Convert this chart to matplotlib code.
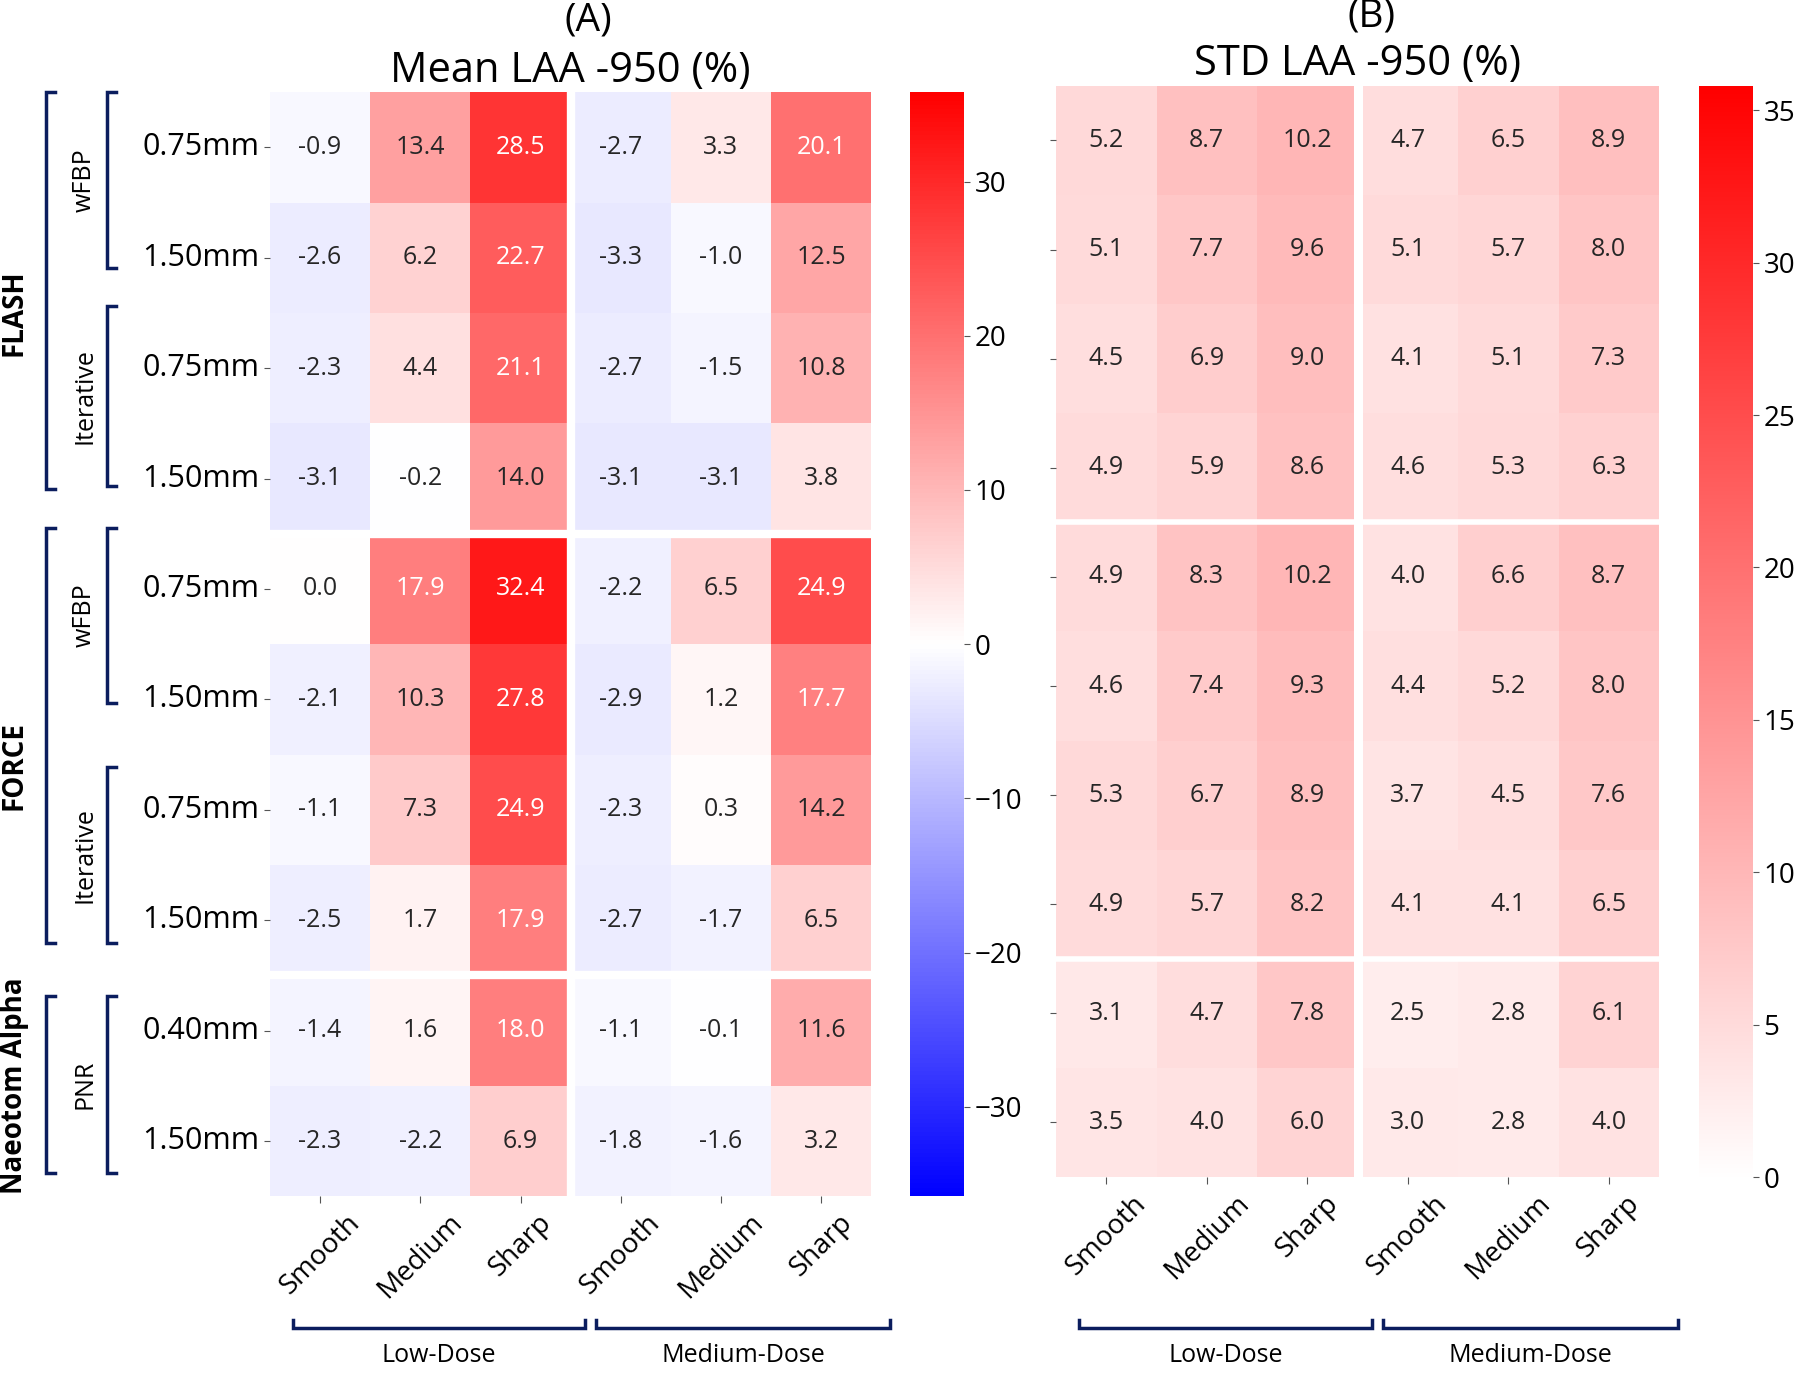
import numpy as np
import matplotlib
matplotlib.use('Agg')
import matplotlib.pyplot as plt
import seaborn as sns
from matplotlib import transforms
from matplotlib.lines import Line2D
from matplotlib.colors import LinearSegmentedColormap

plt.rcParams['font.family'] = ['Open Sans', 'DejaVu Sans']

kernels = ['Smooth', 'Medium', 'Sharp', 'Smooth', 'Medium', 'Sharp']
doses = ['Low-Dose', 'Medium-Dose']
slices = ['0.75mm', '1.50mm', '0.75mm', '1.50mm', '0.75mm', '1.50mm',
          '0.75mm', '1.50mm', '0.40mm', '1.50mm']
scanners = ['FLASH', 'FORCE', 'Naeotom Alpha']
recons = ['wFBP', 'Iterative', 'wFBP', 'Iterative', 'PNR']

mean_laa = [
    [-0.9, 13.4, 28.5, -2.7, 3.3, 20.1],
    [-2.6, 6.2, 22.7, -3.3, -1.0, 12.5],
    [-2.3, 4.4, 21.1, -2.7, -1.5, 10.8],
    [-3.1, -0.2, 14.0, -3.1, -3.1, 3.8],
    [0.0, 17.9, 32.4, -2.2, 6.5, 24.9],
    [-2.1, 10.3, 27.8, -2.9, 1.2, 17.7],
    [-1.1, 7.3, 24.9, -2.3, 0.3, 14.2],
    [-2.5, 1.7, 17.9, -2.7, -1.7, 6.5],
    [-1.4, 1.6, 18.0, -1.1, -0.1, 11.6],
    [-2.3, -2.2, 6.9, -1.8, -1.6, 3.2],
]
std_laa = [
    [5.2, 8.7, 10.2, 4.7, 6.5, 8.9],
    [5.1, 7.7, 9.6, 5.1, 5.7, 8.0],
    [4.5, 6.9, 9.0, 4.1, 5.1, 7.3],
    [4.9, 5.9, 8.6, 4.6, 5.3, 6.3],
    [4.9, 8.3, 10.2, 4.0, 6.6, 8.7],
    [4.6, 7.4, 9.3, 4.4, 5.2, 8.0],
    [5.3, 6.7, 8.9, 3.7, 4.5, 7.6],
    [4.9, 5.7, 8.2, 4.1, 4.1, 6.5],
    [3.1, 4.7, 7.8, 2.5, 2.8, 6.1],
    [3.5, 4.0, 6.0, 3.0, 2.8, 4.0],
]

vlim = 35.8
navy = '#0b1d5e'

fig = plt.figure(figsize=(18, 13.75), dpi=100)
axA = fig.add_axes([0.150, 0.130, 0.334, 0.803])
caxA = fig.add_axes([0.5056, 0.130, 0.030, 0.803])
axB = fig.add_axes([0.5867, 0.144, 0.335, 0.7935])
caxB = fig.add_axes([0.944, 0.144, 0.030, 0.7935])

# white -> red half of bwr for the STD panel
reds = LinearSegmentedColormap.from_list('wr', plt.cm.bwr(np.linspace(0.5, 1, 128)))

sns.heatmap(np.array(mean_laa), ax=axA, cbar_ax=caxA, cmap='bwr', vmin=-vlim, vmax=vlim,
            annot=True, fmt='.1f', annot_kws={'size': 18},
            xticklabels=kernels, yticklabels=slices)
sns.heatmap(np.array(std_laa), ax=axB, cbar_ax=caxB, cmap=reds, vmin=0, vmax=vlim,
            annot=True, fmt='.1f', annot_kws={'size': 18},
            xticklabels=kernels, yticklabels=[''] * len(slices))

for ax, hw, vw in [(axA, 6, 6), (axB, 4, 6.5)]:
    ax.axhline(4, color='white', lw=hw)
    ax.axhline(8, color='white', lw=hw)
    ax.axvline(3, color='white', lw=vw)
    ax.set_xticklabels(kernels, rotation=45, ha='center', fontsize=20)
    ax.tick_params(axis='x', length=5, color='#555555', pad=4)
    ax.tick_params(axis='y', length=4, color='#555555')

axA.set_yticklabels(slices, rotation=0, fontsize=22)

caxA.set_yticks([-30, -20, -10, 0, 10, 20, 30])
caxB.set_yticks([0, 5, 10, 15, 20, 25, 30, 35])
for cax in (caxA, caxB):
    cax.tick_params(labelsize=20, length=4, color='#555555')

axA.set_title('Mean LAA -950 (%)', fontsize=30, pad=2)
axB.set_title('STD LAA -950 (%)', fontsize=30, pad=8)
fig.text(0.327, 0.985, '(A)', fontsize=28, ha='center', va='center')
fig.text(0.762, 0.988, '(B)', fontsize=28, ha='center', va='center')

# left side brackets (row extents)
trY = transforms.blended_transform_factory(fig.transFigure, axA.transData)
outer = [(0.0, 3.59), (3.95, 7.71), (8.19, 9.79)]
inner = [(0.0, 1.59), (1.94, 3.57), (3.95, 5.53), (6.11, 7.71), (8.19, 9.79)]
label_y = [2.0, 6.1, 9.0]


def vbracket(x, y0, y1, s=0.005):
    fig.add_artist(Line2D([x + s, x, x, x + s], [y0, y0, y1, y1], transform=trY,
                          color=navy, lw=2.5, solid_joinstyle='miter'))


for (y0, y1), name, ly in zip(outer, scanners, label_y):
    vbracket(0.0255, y0, y1)
    fig.text(0.008, ly, name, transform=trY,
             rotation=90, ha='center', va='center', fontsize=20, fontweight='bold')
for (y0, y1), name in zip(inner, recons):
    vbracket(0.0593, y0, y1)
    fig.text(0.047, (y0 + y1) / 2, name, transform=trY,
             rotation=90, ha='center', va='center', fontsize=18)

# bottom brackets for dose groups
dose_spans = [(0.23, 3.14), (3.25, 6.19)]
for ax in (axA, axB):
    trX = transforms.blended_transform_factory(ax.transData, fig.transFigure)
    for (x0, x1), name in zip(dose_spans, doses):
        fig.add_artist(Line2D([x0, x0, x1, x1], [0.040, 0.034, 0.034, 0.040], transform=trX,
                              color=navy, lw=2.5, solid_joinstyle='miter'))
        fig.text((x0 + x1) / 2, 0.014, name, transform=trX, ha='center', va='center',
                 fontsize=18)

fig.savefig('out.png', dpi=100)
